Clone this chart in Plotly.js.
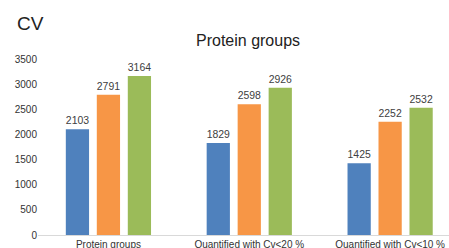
<!DOCTYPE html>
<html><head><meta charset="utf-8">
<script src="https://cdn.plot.ly/plotly-3.0.1.min.js"></script>
<style>html,body{margin:0;padding:0;overflow:hidden;background:#fff}</style>
</head><body><div id="chart" style="width:449px;height:248px"></div>
<script>
const categories = ["Protein groups", "Quantified with Cv<20 %", "Quantified with Cv<10 %"];
const seriesA = [2103, 1829, 1425];
const seriesB = [2791, 2598, 2252];
const seriesC = [3164, 2926, 2532];
const colors = ["#4f81bd", "#f79646", "#9bbb59"];
const font = "Liberation Sans, Arial, sans-serif";
const traces = [seriesA, seriesB, seriesC].map((vals, i) => ({
  type: "bar", x: categories, y: vals, marker: {color: colors[i]},
  text: vals.map(String), textposition: "outside", cliponaxis: false,
  textfont: {family: font, size: 11, color: "#404040"}, hoverinfo: "none"
}));
const layout = {
  width: 449, height: 248,
  margin: {l: 37.5, r: 0, t: 59, b: 13},
  paper_bgcolor: "#fff", plot_bgcolor: "#fff",
  showlegend: false, barmode: "group", bargap: 0.34, bargroupgap: 0.25,
  font: {family: font, color: "#333"},
  xaxis: {type: "category", range: [-0.5, 2.418], showline: true, linecolor: "#d9d9d9", linewidth: 1,
    ticks: "", tickfont: {size: 10, color: "#333"}, fixedrange: true},
  yaxis: {range: [0, 3500], dtick: 500, showgrid: false, zeroline: false, showline: false,
    ticks: "", tickfont: {size: 10, color: "#333"}, ticklabelstandoff: 0},
  annotations: [
    {text: "CV", xref: "paper", yref: "paper", x: -0.055, y: 1.2, xanchor: "left", yanchor: "middle",
     showarrow: false, font: {size: 19, color: "#222"}},
    {text: "Protein groups", xref: "paper", yref: "paper", x: 0.51, y: 1.105, xanchor: "center", yanchor: "middle",
     showarrow: false, font: {size: 16, color: "#222"}}
  ]
};
Plotly.newPlot("chart", traces, layout, {staticPlot: true, displayModeBar: false});
</script></body></html>
